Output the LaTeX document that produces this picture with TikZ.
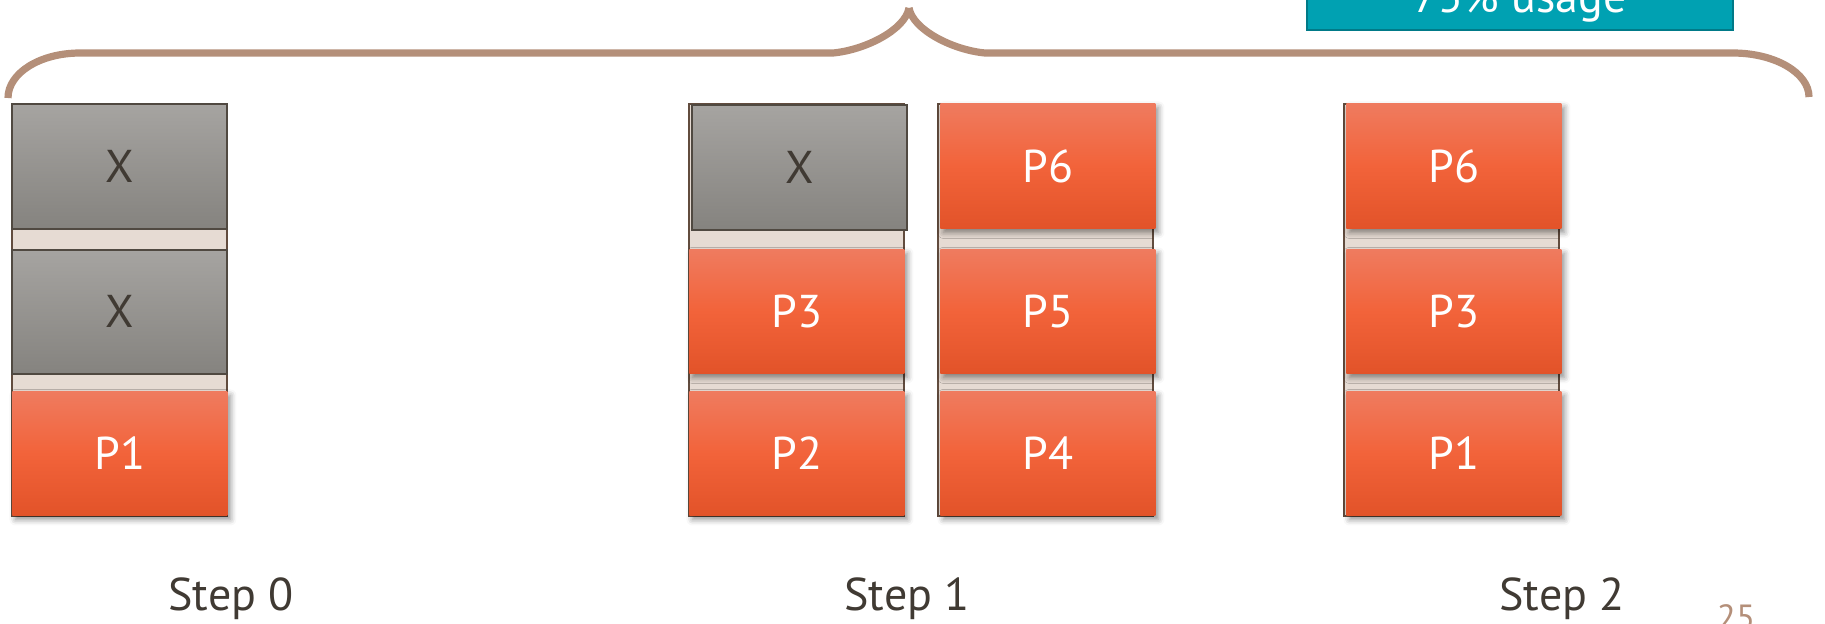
\documentclass[tikz,border=0pt]{standalone}
\usepackage{fontspec}
\setmainfont{PT Sans}
\usetikzlibrary{shadows.blur}

\definecolor{bracec}{RGB}{180,143,121}
\definecolor{orangetop}{RGB}{239,123,95}
\definecolor{orangemid}{RGB}{242,99,58}
\definecolor{orangebot}{RGB}{226,83,41}
\definecolor{graytop}{RGB}{166,164,161}
\definecolor{graybot}{RGB}{133,131,127}
\definecolor{grayedge}{RGB}{80,73,65}
\definecolor{slotfill}{RGB}{230,219,211}
\definecolor{slotedge}{RGB}{98,76,62}
\definecolor{tealfill}{RGB}{0,161,178}
\definecolor{tealedge}{RGB}{0,122,136}
\definecolor{textdark}{RGB}{64,58,51}

\tikzset{
  bigtext/.style={font=\fontsize{23}{27}\selectfont},
  memcol/.style={draw=slotedge, line width=1pt, fill=slotfill, inner sep=0pt,
    minimum width=107.5pt, minimum height=206pt, anchor=north west},
  block/.style={bigtext, inner sep=0pt, minimum width=107.5pt, minimum height=62pt,
    anchor=north west},
  tallblock/.style={minimum height=62.5pt},
  freeblock/.style={block, draw=grayedge, line width=0.8pt, top color=graytop,
    bottom color=graybot, text=textdark},
  usedblock/.style={block, top color=orangetop, bottom color=orangebot,
    middle color=orangemid, text=white,
    blur shadow={shadow xshift=1.5pt, shadow yshift=-2pt, shadow blur radius=3pt,
      shadow opacity=45}},
  steplabel/.style={bigtext, text=textdark, anchor=base},
  brace/.style={draw=bracec, line width=3.6pt}
}

\begin{document}
\begin{tikzpicture}[x=0.5pt, y=-0.5pt]
\clip (0,0) rectangle (1825,623);

% curly brace spanning the three steps
\draw[brace] (8,98) .. controls (8,73) and (40,53) .. (80,53) -- (833,53)
  .. controls (865,50) and (905,30) .. (909,8);
\draw[brace] (909,8) .. controls (913,30) and (953,50) .. (985,53) -- (1733,53)
  .. controls (1775,53) and (1809,73) .. (1809,97);

% usage badge
\node (usage) [bigtext, draw=tealedge, fill=tealfill, line width=1pt, text=white,
  inner sep=0pt, minimum width=213pt, text height=40pt, text depth=9pt,
  anchor=south] at (1520,31) {75\% usage};

% memory columns
\node (colA) [memcol] at (11,103) {};
\node (colB) [memcol] at (688,103) {};
\node (colC) [memcol] at (937,103) {};
\node (colD) [memcol] at (1343,103) {};

% step 0
\node (a1) [freeblock, tallblock] at (11,103) {X};
\node (a2) [freeblock] at (11,249) {X};
\node (a3) [usedblock] at (12,391) {P1};

% step 1
\node (b1) [freeblock, tallblock] at (691,104) {X};
\node (b2) [usedblock] at (689,249) {P3};
\node (b3) [usedblock] at (689,391) {P2};
\node (c1) [usedblock, tallblock] at (940,103) {P6};
\node (c2) [usedblock] at (940,249) {P5};
\node (c3) [usedblock] at (940,391) {P4};

% step 2
\node (d1) [usedblock, tallblock] at (1346,103) {P6};
\node (d2) [usedblock] at (1346,249) {P3};
\node (d3) [usedblock] at (1346,391) {P1};

% step captions
\node (s0) [steplabel] at (231,610) {Step 0};
\node (s1) [steplabel] at (907,610) {Step 1};
\node (s2) [steplabel] at (1562,610) {Step 2};

% page number
\node (page) [anchor=base, text=bracec, font=\fontsize{17.5}{20}\selectfont]
  at (1736,629) {25};
\end{tikzpicture}
\end{document}
